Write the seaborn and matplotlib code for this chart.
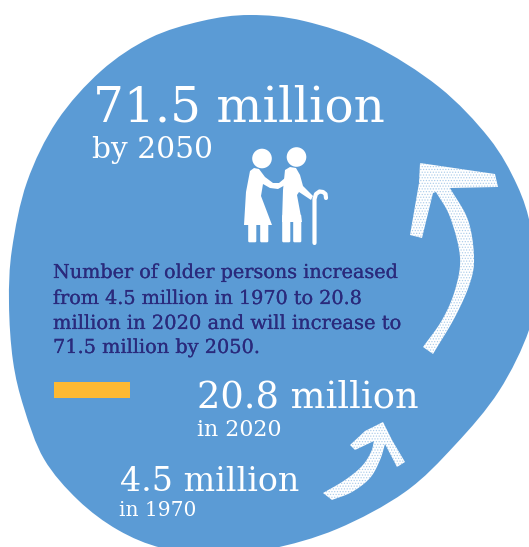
import numpy as np
import matplotlib
matplotlib.use("Agg")
import matplotlib.pyplot as plt
from matplotlib.path import Path
from matplotlib.patches import PathPatch, Circle, Polygon, FancyBboxPatch
from matplotlib import patheffects as pe
import pandas as pd
import seaborn as sns

# ---- content ----
years = [1970, 2020, 2050]
millions = [4.5, 20.8, 71.5]
headline_labels = [f"{v} million" for v in millions]
year_labels = [f"in {years[0]}", f"in {years[1]}", f"by {years[2]}"]
body_lines = ["Number of older persons increased",
              "from 4.5 million in 1970 to 20.8",
              "million in 2020 and will increase to",
              "71.5 million by 2050."]

BLUE = "#5b9bd5"
NAVY = "#2a2a7c"
YELLOW = "#fdb933"
SERIF = "DejaVu Serif"

sns.set_theme(style="white")
plt.rcParams["font.family"] = [SERIF, "DejaVu Sans"]
plt.rcParams["hatch.linewidth"] = 0.6

fig = plt.figure(figsize=(5.29, 5.47), dpi=100, facecolor="white")
ax = fig.add_axes([0, 0, 1, 1])
ax.set_xlim(0, 529)
ax.set_ylim(547, 0)
ax.axis("off")


def smooth_closed(pts):
    p = np.array(pts, float)
    n = len(p)
    verts = [p[0]]
    codes = [Path.MOVETO]
    for i in range(n):
        p0, p1, p2, p3 = p[i - 1], p[i], p[(i + 1) % n], p[(i + 2) % n]
        verts += [p1 + (p2 - p0) / 6, p2 - (p3 - p1) / 6, p2]
        codes += [Path.CURVE4] * 3
    return Path(verts, codes)


def curve(pts, steps=10):
    """Smooth open outline through the given outline points."""
    p = np.array(pts, float)
    p = np.vstack([2 * p[0] - p[1], p, 2 * p[-1] - p[-2]])
    out = []
    for i in range(1, len(p) - 2):
        for t in np.linspace(0, 1, steps, endpoint=False):
            out.append(0.5 * (2 * p[i] + (p[i + 1] - p[i - 1]) * t
                              + (2 * p[i - 1] - 5 * p[i] + 4 * p[i + 1] - p[i + 2]) * t ** 2
                              + (3 * p[i] - p[i - 1] - 3 * p[i + 1] + p[i + 2]) * t ** 3))
    out.append(p[-2])
    return [tuple(q) for q in out]


blob_outline = [(250, 15), (304, 21), (371, 44), (439, 87), (489, 138), (517, 185), (531, 228),
                (537, 280), (529, 330), (499, 391), (455, 445), (405, 492), (337, 529),
                (270, 549), (215, 554), (162, 548), (118, 530), (78, 500), (44, 459),
                (24, 408), (13, 361), (9, 303), (12, 249), (27, 182), (57, 121), (101, 71),
                (150, 38), (202, 21)]
ax.add_patch(PathPatch(smooth_closed(blob_outline), fc=BLUE, ec="none", zorder=1))

# ---- yellow rule ----
ax.add_patch(plt.Rectangle((54, 382), 76, 15.5, fc=YELLOW, ec="none", zorder=2))


# ---- people icon ----
def icon():
    kw = dict(fc="white", ec="none", zorder=3)
    ax.add_patch(Circle((262, 158.5), 9.8, **kw))
    ax.add_patch(Circle((296.5, 157), 9.8, **kw))
    # woman
    ax.add_patch(Polygon([(250, 171), (254, 168), (259, 169), (265, 177), (273, 183), (279, 183),
                          (285, 178), (287, 184), (278, 189), (270, 188), (263, 184), (261, 196),
                          (272, 225), (244, 225), (246, 192)], closed=True, **kw))
    for x in (249.5, 261.5):
        ax.add_patch(FancyBboxPatch((x, 222), 5.5, 19, boxstyle="round,pad=1.3", **kw))
    # man
    ax.add_patch(Polygon([(285, 170), (290, 167), (296, 168), (300, 175), (303, 186), (313, 196),
                          (311, 200), (299, 192), (297, 195), (302, 222), (282, 222), (283, 190)],
                         closed=True, **kw))
    for x in (283.5, 294.5):
        ax.add_patch(FancyBboxPatch((x, 216), 5.5, 25, boxstyle="round,pad=1.3", **kw))


icon()
cane = pd.DataFrame({"x": [314.5, 314.5, 314.5, 316, 319.5, 323, 325.5, 326],
                     "y": [243, 215, 199, 194, 191.5, 192, 194, 198]})
sns.lineplot(data=cane, x="x", y="y", sort=False, color="white", lw=3, ax=ax, zorder=3,
             estimator=None, legend=False)


# ---- chalk arrows ----
def chalk(outline):
    ax.add_patch(Polygon(outline, closed=True, fc="white", ec="none", zorder=3))
    ax.add_patch(Polygon(outline, closed=True, fc="none", ec=(0.36, 0.61, 0.84, 0.45),
                         hatch="......", lw=0, zorder=4))


big_arrow = (curve([(433, 354), (455, 317), (470, 283), (474, 257), (468, 220), (450, 188)])
             + [(498, 187), (495, 174), (420, 163), (419, 183), (410, 235), (422, 238), (433, 193)]
             + curve([(436, 192), (450, 217), (460, 257), (455, 290), (442, 320), (423, 347)]))
small_arrow = (curve([(332, 500), (352, 492), (370, 478), (380, 460), (385, 444)])
               + [(397, 467), (405, 462), (392, 440), (383, 422), (365, 431), (350, 445),
                  (355, 450), (374, 441)]
               + curve([(374, 441), (371, 452), (362, 466), (345, 480), (323, 493)]))
chalk(big_arrow)
chalk(small_arrow)


# ---- text ----
def fit(x, y, s, width, color="white", stroke=0.0):
    t = ax.text(x, y, s, color=color, family=[SERIF, "DejaVu Sans"],
                fontsize=20, va="baseline", ha="left", zorder=6)
    r = fig.canvas.get_renderer()
    t.set_fontsize(20 * width / t.get_window_extent(r).width)
    if stroke:
        t.set_path_effects([pe.withStroke(linewidth=stroke, foreground=color)])
    return t


fit(93, 122, headline_labels[2], 292)
fit(92, 158, year_labels[2], 121)
fit(197, 408, headline_labels[1], 221)
fit(197, 436, year_labels[1], 85)
fit(120, 491, headline_labels[0], 179)
fit(119, 516, year_labels[0], 77)

for line, y, w in zip(body_lines, [278, 304, 329, 353], [344, 309, 348, 207]):
    fit(53, y, line, w, color=NAVY, stroke=0.15)

ax.set_xlim(0, 529)
ax.set_ylim(547, 0)
ax.set_xlabel("")
ax.set_ylabel("")
fig.savefig("out.png", dpi=100, facecolor="white")
